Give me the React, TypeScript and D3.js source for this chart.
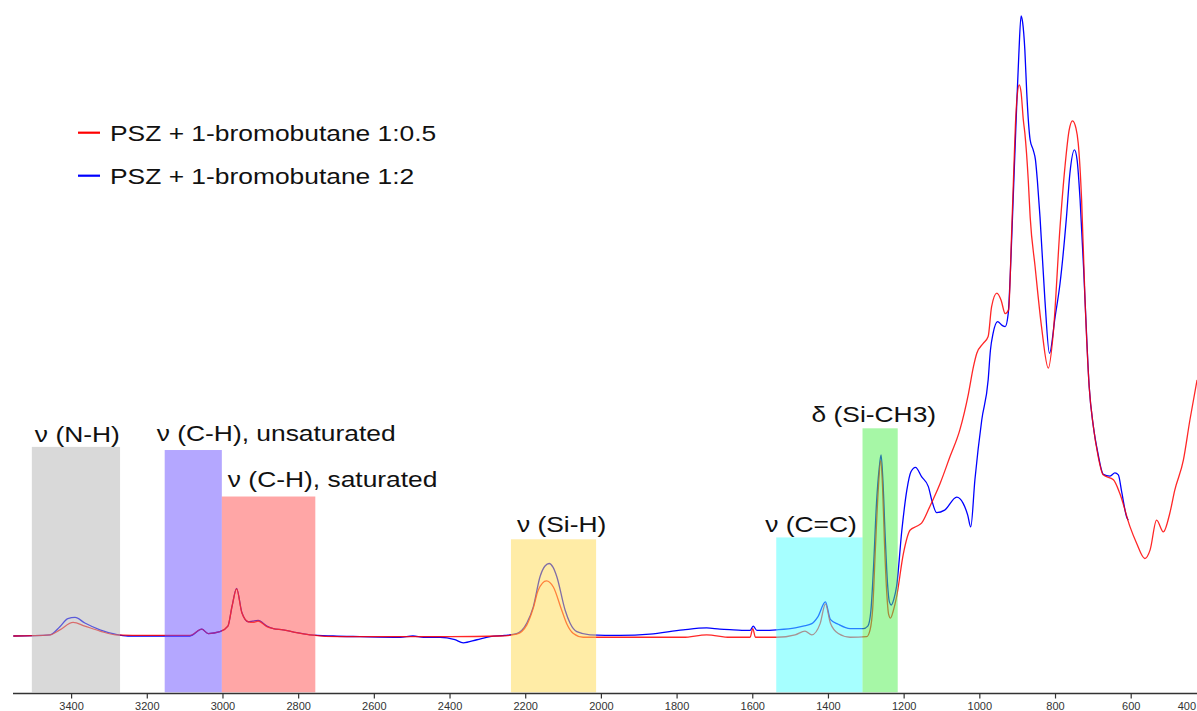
import React from "react";
import * as d3 from "d3";

// FTIR spectra: [wavenumber (cm-1), absorbance (a.u.)]
const seriesRed: [number, number][] = [
  [3554, 0.0], [3457, 0.002], [3431, 0.01], [3396, 0.022], [3365, 0.016], [3325, 0.008],
  [3285, 0.002], [3193, 0.001], [3087, 0.001], [3056, 0.011], [3039, 0.004], [3008, 0.007],
  [2987, 0.016], [2976, 0.048], [2964, 0.076], [2950, 0.037], [2933, 0.023], [2921, 0.022],
  [2907, 0.024], [2884, 0.015], [2867, 0.012], [2841, 0.01], [2810, 0.006], [2770, 0.002],
  [2691, -0.001], [2532, -0.001], [2400, -0.001], [2268, 0.0], [2224, 0.003], [2197, 0.018],
  [2180, 0.045], [2167, 0.074], [2145, 0.089], [2127, 0.079], [2105, 0.042], [2091, 0.019],
  [2074, 0.004], [2048, -0.002], [1951, -0.002], [1784, -0.002], [1722, 0.002], [1660, -0.002],
  [1607, -0.002], [1600, 0.012], [1593, -0.002], [1537, -0.002], [1488, 0.002], [1462, 0.008],
  [1444, 0.002], [1422, 0.02], [1408, 0.052], [1395, 0.021], [1374, 0.004], [1343, -0.002],
  [1299, -0.001], [1290, 0.01], [1283, 0.045], [1276, 0.14], [1268, 0.24], [1262, 0.283],
  [1257, 0.24], [1252, 0.15], [1246, 0.07], [1241, 0.035], [1236, 0.029], [1229, 0.04],
  [1220, 0.063], [1202, 0.133], [1184, 0.171], [1167, 0.177], [1154, 0.182], [1132, 0.209],
  [1105, 0.246], [1079, 0.289], [1053, 0.332], [1030, 0.391], [1017, 0.434], [1008, 0.456],
  [991, 0.472], [978, 0.483], [969, 0.531], [955, 0.553], [944, 0.542], [933, 0.52],
  [924, 0.526], [916, 0.65], [910, 0.756], [906, 0.824], [901, 0.873], [896, 0.889],
  [891, 0.877], [885, 0.832], [881, 0.811], [872, 0.735], [867, 0.676], [854, 0.596],
  [837, 0.499], [819, 0.432], [806, 0.488], [788, 0.66], [775, 0.757], [764, 0.816],
  [755, 0.831], [746, 0.819], [740, 0.795], [731, 0.703], [722, 0.542], [711, 0.402],
  [700, 0.338], [688, 0.292], [674, 0.26], [647, 0.252], [630, 0.23], [603, 0.176],
  [586, 0.15], [564, 0.125], [550, 0.139], [533, 0.187], [515, 0.168], [498, 0.198],
  [485, 0.235], [462, 0.284], [445, 0.348], [426, 0.413],
];

const seriesBlue: [number, number][] = [
  [3554, 0.0], [3457, 0.002], [3431, 0.015], [3410, 0.028], [3391, 0.03], [3365, 0.021],
  [3325, 0.01], [3285, 0.003], [3251, 0.0], [3193, 0.0], [3087, 0.0], [3056, 0.011],
  [3039, 0.004], [3008, 0.007], [2987, 0.016], [2976, 0.048], [2964, 0.077], [2950, 0.038],
  [2933, 0.023], [2921, 0.024], [2907, 0.025], [2884, 0.016], [2867, 0.012], [2841, 0.01],
  [2810, 0.006], [2770, 0.002], [2709, 0.0], [2638, -0.001], [2532, -0.002], [2498, 0.0],
  [2470, -0.002], [2426, -0.002], [2387, -0.006], [2365, -0.011], [2329, -0.006], [2294, -0.001],
  [2255, 0.001], [2224, 0.004], [2197, 0.021], [2180, 0.047], [2162, 0.096], [2149, 0.113],
  [2138, 0.117], [2128, 0.111], [2118, 0.096], [2096, 0.042], [2083, 0.021], [2065, 0.007],
  [2030, 0.002], [1951, 0.001], [1872, 0.003], [1784, 0.01], [1722, 0.013], [1687, 0.011],
  [1651, 0.01], [1607, 0.009], [1599, 0.016], [1589, 0.009], [1537, 0.01], [1488, 0.013],
  [1467, 0.016], [1444, 0.02], [1428, 0.031], [1408, 0.055], [1395, 0.027], [1374, 0.019],
  [1343, 0.012], [1308, 0.012], [1296, 0.016], [1288, 0.04], [1281, 0.11], [1273, 0.215],
  [1266, 0.27], [1261, 0.292], [1256, 0.25], [1250, 0.16], [1244, 0.085], [1239, 0.055],
  [1234, 0.05], [1227, 0.06], [1220, 0.08], [1206, 0.171], [1193, 0.235], [1182, 0.265],
  [1170, 0.272], [1154, 0.257], [1136, 0.241], [1127, 0.219], [1114, 0.199], [1093, 0.203],
  [1061, 0.224], [1044, 0.214], [1032, 0.195], [1024, 0.176], [1013, 0.252], [995, 0.348],
  [978, 0.413], [972, 0.461], [965, 0.488], [953, 0.507], [941, 0.501], [933, 0.499],
  [925, 0.52], [918, 0.606], [912, 0.703], [907, 0.784], [902, 0.865], [897, 0.937],
  [891, 1.0], [887, 0.99], [881, 0.945], [876, 0.876], [867, 0.8], [859, 0.784],
  [853, 0.768], [848, 0.735], [841, 0.676], [828, 0.542], [816, 0.456], [801, 0.515],
  [788, 0.569], [771, 0.676], [762, 0.746], [750, 0.784], [743, 0.768], [735, 0.703],
  [726, 0.596], [722, 0.542], [711, 0.402], [700, 0.338], [688, 0.295], [674, 0.261],
  [656, 0.258], [643, 0.263], [634, 0.26], [625, 0.232], [612, 0.192], [608, 0.187],
];

const seriesNames = ["PSZ + 1-bromobutane 1:0.5", "PSZ + 1-bromobutane 1:2"];

// Absorption band assignments
const bandLabels = ["ν (N-H)", "ν (C-H), unsaturated", "ν (C-H), saturated", "ν (Si-H)", "ν (C=C)", "δ (Si-CH3)"];
const bandFrom = [3505, 3154, 3003, 2239, 1538, 1310];
const bandTo = [3272, 3003, 2756, 2014, 1310, 1217];
const bandTop = [0.305, 0.3, 0.225, 0.156, 0.159, 0.335];

const xTicks = [3400, 3200, 3000, 2800, 2600, 2400, 2200, 2000, 1800, 1600, 1400, 1200, 1000, 800, 600, 400];

// styling
const bandFills = ["#b3b3b3", "#694fff", "#ff4d4d", "#ffd94d", "#4dffff", "#4def4d"];
const labelDx = [3, -8, 6, 6, -11, -51];
const labelDy = [-5, -9, -9.5, -7.5, -5.5, -6.5];
const lineColors = ["#ff0000", "#0000ff"];

const W = 1197;
const H = 711;
const FONT = "'Liberation Sans', Arial, Helvetica, sans-serif";

export default function App() {
  const x = d3.scaleLinear().domain([3400, 600]).range([71.6, 1131.2]);
  const y = d3.scaleLinear().domain([-0.0927, 1]).range([693.5, 16]);
  const axisY = y(-0.0927);

  const line = d3
    .line<[number, number]>()
    .x((d) => x(d[0]))
    .y((d) => y(d[1]))
    .curve(d3.curveMonotoneX);

  const textStretch = 1.2;

  return (
    <svg
      width={W}
      height={H}
      style={{ position: "absolute", left: 0, top: 0, background: "#fff" }}
      xmlns="http://www.w3.org/2000/svg"
    >
      <rect x={0} y={0} width={W} height={H} fill="#fff" />

      {/* spectra */}
      <path d={line(seriesBlue) || ""} fill="none" stroke={lineColors[1]} strokeWidth={1.3} strokeLinejoin="round" />
      <path d={line(seriesRed) || ""} fill="none" stroke={lineColors[0]} strokeWidth={1.3} strokeLinejoin="round" strokeOpacity={0.85} />

      {/* band highlights */}
      {bandLabels.map((lab, i) => {
        const x0 = x(bandFrom[i]);
        const x1 = x(bandTo[i]);
        const yt = y(bandTop[i]);
        return (
          <rect
            key={"b" + i}
            x={x0}
            y={yt}
            width={x1 - x0}
            height={axisY - 1.2 - yt}
            fill={bandFills[i]}
            fillOpacity={0.5}
          />
        );
      })}

      {/* band labels */}
      {bandLabels.map((lab, i) => (
        <text
          key={"t" + i}
          transform={`translate(${x(bandFrom[i]) + labelDx[i]},${y(bandTop[i]) + labelDy[i]}) scale(${textStretch},1)`}
          fontFamily={FONT}
          fontSize={22}
          fill="#111"
        >
          {lab}
        </text>
      ))}

      {/* legend */}
      {seriesNames.map((name, i) => (
        <g key={"l" + i} transform={`translate(78,${132.7 + i * 43})`}>
          <line x1={0} x2={22} y1={0} y2={0} stroke={lineColors[i]} strokeWidth={2.2} />
          <text
            transform={`translate(32,8) scale(${textStretch},1)`}
            fontFamily={FONT}
            fontSize={22}
            fill="#111"
          >
            {name}
          </text>
        </g>
      ))}

      {/* x axis */}
      <line x1={13} x2={W} y1={axisY} y2={axisY} stroke="#333" strokeWidth={1.6} />
      {xTicks.map((t) => {
        const tx = x(t);
        const overflow = tx + 12 > W;
        return (
          <g key={"x" + t}>
            <line x1={tx} x2={tx} y1={axisY} y2={axisY + 5} stroke="#333" strokeWidth={1.2} />
            <text
              x={overflow ? W - 1 : tx}
              y={709.5}
              textAnchor={overflow ? "end" : "middle"}
              fontFamily={FONT}
              fontSize={11}
              fill="#333"
            >
              {t}
            </text>
          </g>
        );
      })}
    </svg>
  );
}
